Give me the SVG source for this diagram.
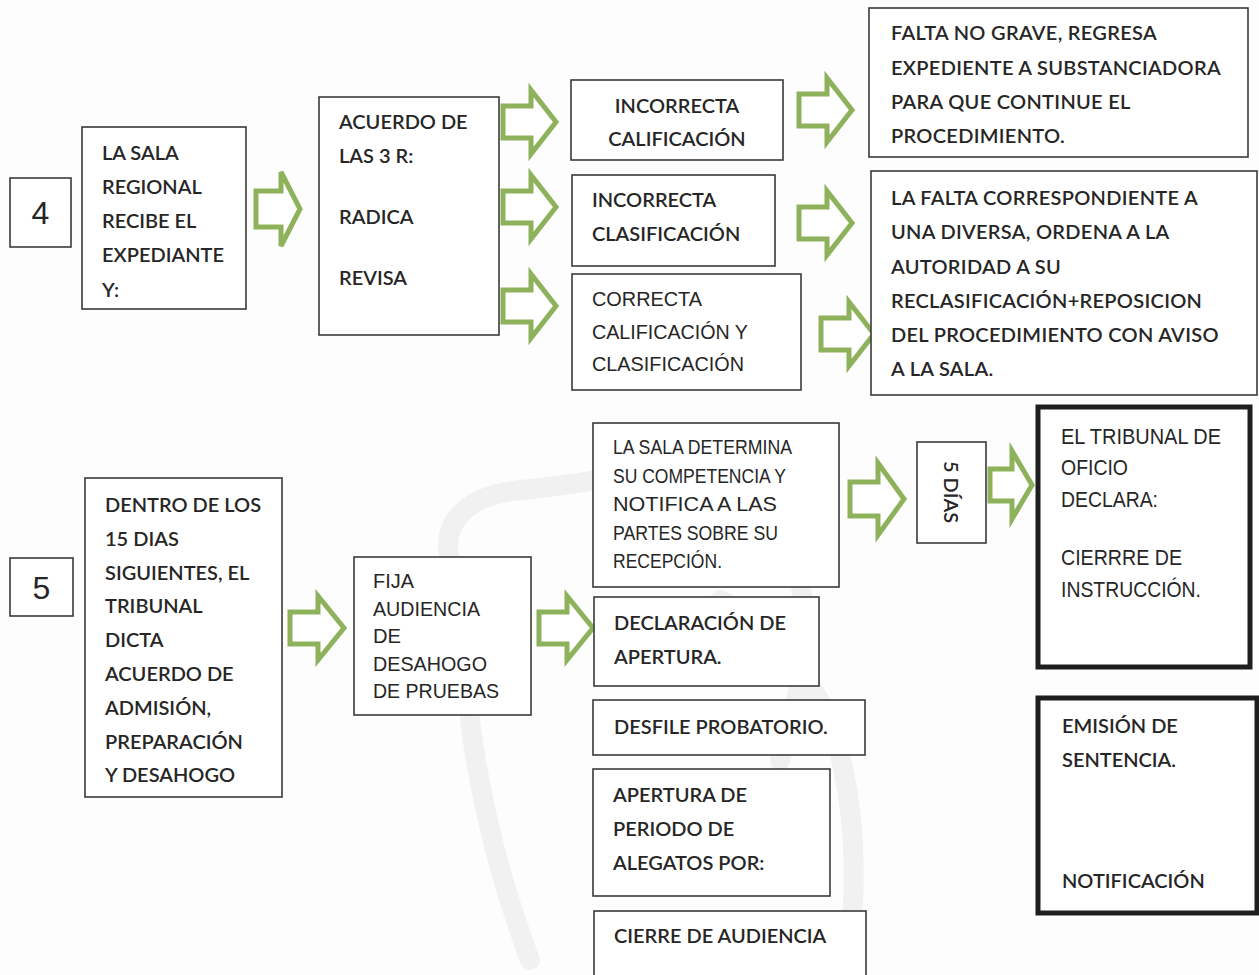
<svg xmlns="http://www.w3.org/2000/svg" width="1259" height="975" viewBox="0 0 1259 975">
<style>
.bg{fill:#fdfdfd}
.box{fill:#fff;stroke:#3a3a3a;stroke-width:1.6}
.thick{fill:#fff;stroke:#1e1e1e;stroke-width:5}
.arrow{fill:#fff;stroke:#8db25b;stroke-width:5;stroke-linejoin:miter}
.c{font-family:Lato,"Open Sans",sans-serif;font-size:20px;fill:#262626;font-weight:600}
.n{font-family:"Liberation Sans",Arial,sans-serif;fill:#262626}
.wm{fill:none;stroke:#f1f1f1;stroke-width:20;stroke-linecap:round}
</style>
<rect class="bg" x="0" y="0" width="1259" height="975"/>
<g id="watermark">
<path class="wm" d="M450,560 C440,520 470,495 520,490 C580,485 640,470 700,470 C760,470 790,520 800,580 C810,640 800,700 780,760"/>
<path class="wm" d="M470,720 C480,800 500,880 530,960"/>
<path class="wm" d="M720,600 C760,620 800,660 830,720 C850,780 860,850 850,940"/>
</g>
<g id="connectors">
<path class="arrow" d="M256,191 H281 V172 L300,209 L281,246 V227 H256 Z"/>
<path class="arrow" d="M503,106 H531 V90 L556,122 L531,154 V138 H503 Z"/>
<path class="arrow" d="M503,191 H531 V175 L556,207 L531,239 V223 H503 Z"/>
<path class="arrow" d="M503,290 H531 V274 L556,306 L531,338 V322 H503 Z"/>
<path class="arrow" d="M799,94 H827 V78 L852,110 L827,142 V126 H799 Z"/>
<path class="arrow" d="M799,207 H827 V191 L852,223 L827,255 V239 H799 Z"/>
<path class="arrow" d="M821,318 H849 V302 L874,334 L849,366 V350 H821 Z"/>
<path class="arrow" d="M290,612 H318 V596 L344,628 L318,660 V644 H290 Z"/>
<path class="arrow" d="M539,612 H567 V596 L593,628 L567,660 V644 H539 Z"/>
<path class="arrow" d="M850,482 H878 V463 L904,499 L878,535 V516 H850 Z"/>
<path class="arrow" d="M990,469 H1012 V451 L1032,485 L1012,519 V501 H990 Z"/>
</g>
<g id="n4">
<rect class="box" x="10" y="178" width="61" height="69"/>
<text class="n" x="40.5" y="224" font-size="32" text-anchor="middle">4</text>
</g>
<g id="sala">
<rect class="box" x="82" y="127" width="164" height="182"/>
<text class="c" x="102" y="160">LA SALA</text>
<text class="c" x="102" y="194">REGIONAL</text>
<text class="c" x="102" y="228">RECIBE EL</text>
<text class="c" x="102" y="262">EXPEDIANTE</text>
<text class="c" x="102" y="297">Y:</text>
</g>
<g id="acuerdo">
<rect class="box" x="319" y="97" width="180" height="238"/>
<text class="c" x="339" y="129">ACUERDO DE</text>
<text class="c" x="339" y="163">LAS 3 R:</text>
<text class="c" x="339" y="224">RADICA</text>
<text class="c" x="339" y="285">REVISA</text>
</g>
<g id="inc-calif">
<rect class="box" x="571" y="80" width="212" height="80"/>
<text class="c" x="677" y="113" text-anchor="middle">INCORRECTA</text>
<text class="c" x="677" y="146" text-anchor="middle">CALIFICACIÓN</text>
</g>
<g id="inc-clasif">
<rect class="box" x="572" y="175" width="203" height="91"/>
<text class="c" x="592" y="207">INCORRECTA</text>
<text class="c" x="592" y="241">CLASIFICACIÓN</text>
</g>
<g id="correcta">
<rect class="box" x="572" y="274" width="229" height="116"/>
<text class="n" x="592" y="306" font-size="21" textLength="110" lengthAdjust="spacingAndGlyphs">CORRECTA</text>
<text class="n" x="592" y="339" font-size="21" textLength="156" lengthAdjust="spacingAndGlyphs">CALIFICACIÓN Y</text>
<text class="n" x="592" y="371" font-size="21" textLength="152" lengthAdjust="spacingAndGlyphs">CLASIFICACIÓN</text>
</g>
<g id="falta-no-grave">
<rect class="box" x="869" y="8" width="379" height="149"/>
<text class="c" x="891" y="40" letter-spacing="0.3">FALTA NO GRAVE, REGRESA</text>
<text class="c" x="891" y="75" letter-spacing="0.3">EXPEDIENTE A SUBSTANCIADORA</text>
<text class="c" x="891" y="109" letter-spacing="0.3">PARA QUE CONTINUE EL</text>
<text class="c" x="891" y="143" letter-spacing="0.3">PROCEDIMIENTO.</text>
</g>
<g id="falta-diversa">
<rect class="box" x="871" y="171" width="386" height="224"/>
<text class="c" x="891" y="205" letter-spacing="0.3">LA FALTA CORRESPONDIENTE A</text>
<text class="c" x="891" y="239" letter-spacing="0.3">UNA DIVERSA, ORDENA A LA</text>
<text class="c" x="891" y="274" letter-spacing="0.3">AUTORIDAD A SU</text>
<text class="c" x="891" y="308" letter-spacing="0.3">RECLASIFICACIÓN+REPOSICION</text>
<text class="c" x="891" y="342" letter-spacing="0.3">DEL PROCEDIMIENTO CON AVISO</text>
<text class="c" x="891" y="376" letter-spacing="0.3">A LA SALA.</text>
</g>
<g id="n5">
<rect class="box" x="10" y="558" width="63" height="58"/>
<text class="n" x="41.5" y="599" font-size="32" text-anchor="middle">5</text>
</g>
<g id="dentro">
<rect class="box" x="85" y="478" width="197" height="319"/>
<text class="c" x="105" y="512">DENTRO DE LOS</text>
<text class="c" x="105" y="546">15 DIAS</text>
<text class="c" x="105" y="580">SIGUIENTES, EL</text>
<text class="c" x="105" y="613">TRIBUNAL</text>
<text class="c" x="105" y="647">DICTA</text>
<text class="c" x="105" y="681">ACUERDO DE</text>
<text class="c" x="105" y="715">ADMISIÓN,</text>
<text class="c" x="105" y="749">PREPARACIÓN</text>
<text class="c" x="105" y="782">Y DESAHOGO</text>
</g>
<g id="fija">
<rect class="box" x="354" y="557" width="177" height="158"/>
<text class="n" x="373" y="588" font-size="21" textLength="41" lengthAdjust="spacingAndGlyphs">FIJA</text>
<text class="n" x="373" y="616" font-size="21" textLength="107" lengthAdjust="spacingAndGlyphs">AUDIENCIA</text>
<text class="n" x="373" y="643" font-size="21" textLength="28" lengthAdjust="spacingAndGlyphs">DE</text>
<text class="n" x="373" y="671" font-size="21" textLength="114" lengthAdjust="spacingAndGlyphs">DESAHOGO</text>
<text class="n" x="373" y="698" font-size="21" textLength="126" lengthAdjust="spacingAndGlyphs">DE PRUEBAS</text>
</g>
<g id="determina">
<rect class="box" x="593" y="423" width="246" height="164"/>
<text class="n" x="613" y="454" font-size="20.5" textLength="179" lengthAdjust="spacingAndGlyphs">LA SALA DETERMINA</text>
<text class="n" x="613" y="483" font-size="20.5" textLength="173" lengthAdjust="spacingAndGlyphs">SU COMPETENCIA Y</text>
<text class="n" x="613" y="511" font-size="20.5" textLength="164" lengthAdjust="spacingAndGlyphs">NOTIFICA A LAS</text>
<text class="n" x="613" y="540" font-size="20.5" textLength="165" lengthAdjust="spacingAndGlyphs">PARTES SOBRE SU</text>
<text class="n" x="613" y="568" font-size="20.5" textLength="109" lengthAdjust="spacingAndGlyphs">RECEPCIÓN.</text>
</g>
<g id="cinco-dias">
<rect class="box" x="917" y="442" width="69" height="101"/>
<text class="c" x="0" y="0" font-size="21" text-anchor="middle" transform="translate(944,492) rotate(90)">5 DÍAS</text>
</g>
<g id="tribunal">
<rect class="thick" x="1038" y="407" width="212" height="260"/>
<text class="n" x="1061" y="444" font-size="22.5" textLength="160" lengthAdjust="spacingAndGlyphs">EL TRIBUNAL DE</text>
<text class="n" x="1061" y="475" font-size="22.5" textLength="67" lengthAdjust="spacingAndGlyphs">OFICIO</text>
<text class="n" x="1061" y="507" font-size="22.5" textLength="97" lengthAdjust="spacingAndGlyphs">DECLARA:</text>
<text class="n" x="1061" y="565" font-size="22.5" textLength="121" lengthAdjust="spacingAndGlyphs">CIERRRE DE</text>
<text class="n" x="1061" y="597" font-size="22.5" textLength="140" lengthAdjust="spacingAndGlyphs">INSTRUCCIÓN.</text>
</g>
<g id="declaracion">
<rect class="box" x="594" y="597" width="225" height="89"/>
<text class="c" x="614" y="630">DECLARACIÓN DE</text>
<text class="c" x="614" y="664">APERTURA.</text>
</g>
<g id="desfile">
<rect class="box" x="593" y="700" width="272" height="55"/>
<text class="c" x="614" y="734">DESFILE PROBATORIO.</text>
</g>
<g id="alegatos">
<rect class="box" x="593" y="769" width="237" height="127"/>
<text class="c" x="613" y="802">APERTURA DE</text>
<text class="c" x="613" y="836">PERIODO DE</text>
<text class="c" x="613" y="870">ALEGATOS POR:</text>
</g>
<g id="cierre">
<rect class="box" x="594" y="911" width="272" height="70"/>
<text class="c" x="614" y="943">CIERRE DE AUDIENCIA</text>
</g>
<g id="emision">
<rect class="thick" x="1038" y="698" width="219" height="215"/>
<text class="c" x="1062" y="733">EMISIÓN DE</text>
<text class="c" x="1062" y="767">SENTENCIA.</text>
<text class="c" x="1062" y="888">NOTIFICACIÓN</text>
</g>
</svg>
